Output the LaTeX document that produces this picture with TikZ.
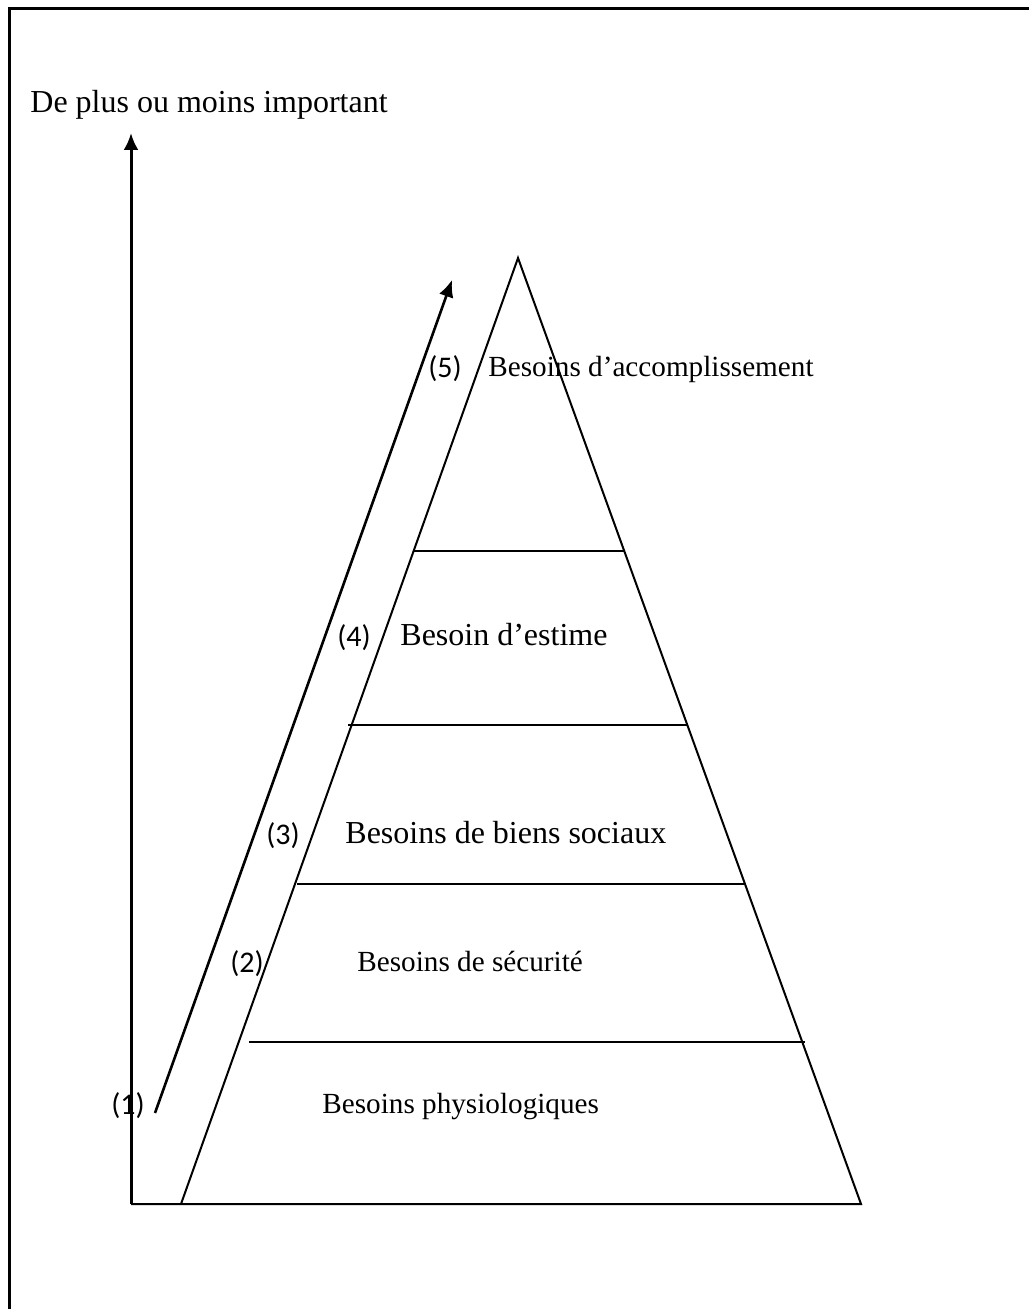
\documentclass[tikz,border=0pt]{standalone}
\usepackage{fontspec}
\setmainfont{Liberation Serif}
\newfontfamily\calibri{Carlito}
\usetikzlibrary{arrows.meta,positioning}

\tikzset{
  pyr/.style={line width=1pt},
  axis/.style={line width=1.5pt,-{Latex[length=8.5pt,width=7.5pt]}},
  lvl/.style={anchor=base west,inner sep=0pt,font=\fontsize{16}{19}\selectfont},
  lvlsmall/.style={lvl,font=\fontsize{14.6}{18}\selectfont},
  num/.style={anchor=base west,inner sep=0pt,font=\calibri\fontsize{15}{18}\selectfont}
}

\begin{document}
\begin{tikzpicture}[x=0.5pt,y=-0.5pt]
    \useasboundingbox (0,0) rectangle (1029,1309);

    % frame
    \draw[line width=1.5pt] (9,1309) -- (9,9) -- (1029,9);

    % points of the pyramid
    \coordinate (O) at (131,1204);
    \coordinate (top) at (131,133);
    \coordinate (apex) at (518,258);
    \coordinate (bl) at (181,1204);
    \coordinate (br) at (861,1204);
    \coordinate (d1l) at (249,1042);
    \coordinate (d1r) at (805,1042);
    \coordinate (d2l) at (297,884);
    \coordinate (d2r) at (745,884);
    \coordinate (d3l) at (348,725);
    \coordinate (d3r) at (688,725);
    \coordinate (d4l) at (413,551);
    \coordinate (d4r) at (625,551);
    \coordinate (s) at (155,1113);
    \coordinate (e) at (452,280);

    \node[lvl] (title) at (30,113) {De plus ou moins important};

    \draw[axis] (O) -- (top);
    \draw[pyr] (O) -- (br) -- (apex) -- (bl);
    \draw[pyr] (d1l) -- (d1r);
    \draw[pyr] (d2l) -- (d2r);
    \draw[pyr] (d3l) -- (d3r);
    \draw[pyr] (d4l) -- (d4r);
    \draw[axis,line width=1.3pt] (s) -- (e);

    % levels
    \node[lvlsmall] (acc) at (488,377) {Besoins d’accomplissement};
    \node[lvl] (est) at (400,645) {Besoin d’estime};
    \node[lvl] (soc) at (345,843) {Besoins de biens sociaux};
    \node[lvlsmall] (sec) at (357,971) {Besoins de sécurité};
    \node[lvlsmall] (phy) at (322,1113) {Besoins physiologiques};

    % numbers
    \node[num] (n5) at (428,378) {(5)};
    \node[num] (n4) at (337,646) {(4)};
    \node[num] (n3) at (266,844) {(3)};
    \node[num] (n2) at (230,972) {(2)};
    \node[num] (n1) at (111,1114) {(1)};
\end{tikzpicture}
\end{document}
